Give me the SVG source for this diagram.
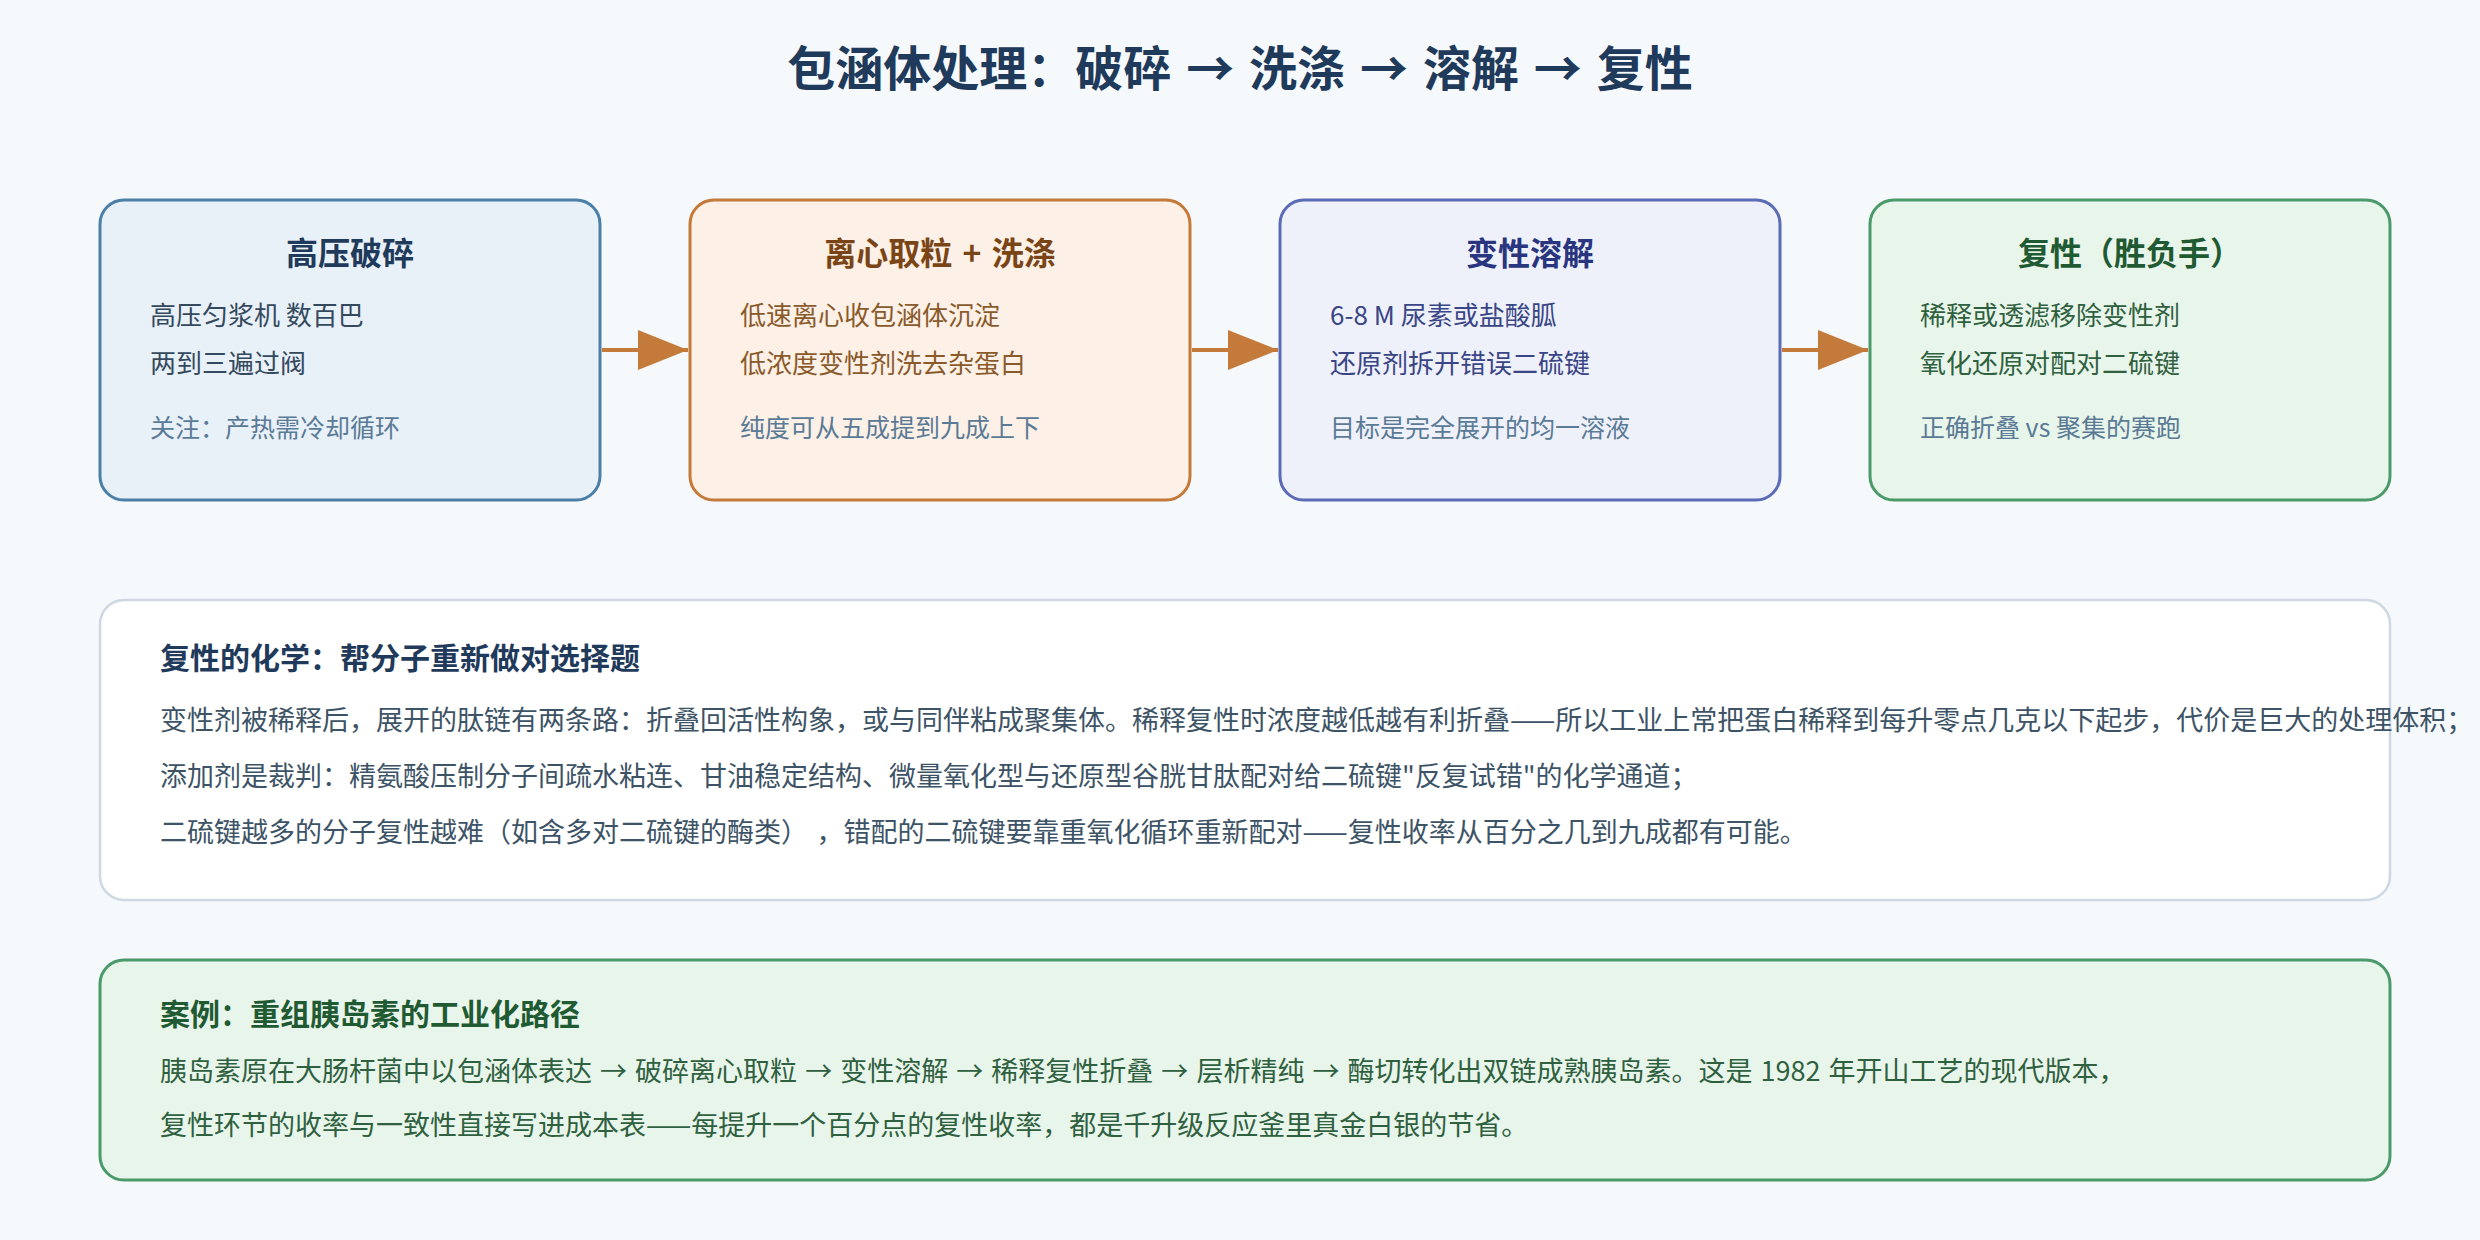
<svg xmlns="http://www.w3.org/2000/svg" width="2480" height="1240" viewBox="0 0 2480 1240">
  <style>
    text { font-family: "Noto Sans CJK SC", "Noto Sans", sans-serif; }
    .title { font-size: 48px; font-weight: 700; fill: #1f3a5a; word-spacing: 4px; }
    .ntitle { font-size: 32px; font-weight: 700; text-anchor: middle; word-spacing: 3px; }
    .body { font-size: 26px; }
    .note { font-size: 25px; fill: #5a7a96; }
    .box { stroke-width: 3; }
    .conn { stroke: #c47a3a; stroke-width: 4; fill: none; }
    .h2 { font-size: 30px; font-weight: 700; }
    .p { font-size: 27px; }
  </style>
  <defs>
    <marker id="ah" markerUnits="userSpaceOnUse" markerWidth="50" markerHeight="40" refX="50" refY="20" orient="auto">
      <path d="M0,0 L50,20 L0,40 Z" fill="#c47a3a"/>
    </marker>
  </defs>
  <rect x="0" y="0" width="2480" height="1240" fill="#f5f9fc"/>
  <text class="title" x="1240" y="86" text-anchor="middle">包涵体处理：破碎 → 洗涤 → 溶解 → 复性</text>

  <g id="node-crush">
    <rect class="box" x="100" y="200" width="500" height="300" rx="24" fill="#e8f0f8" stroke="#4a7fa8"/>
    <text class="ntitle" x="350" y="265" fill="#1f3a5a">高压破碎</text>
    <text class="body" x="150" y="325" fill="#34495e">高压匀浆机 数百巴</text>
    <text class="body" x="150" y="373" fill="#34495e">两到三遍过阀</text>
    <text class="note" x="150" y="437">关注：产热需冷却循环</text>
  </g>
  <g id="node-wash">
    <rect class="box" x="690" y="200" width="500" height="300" rx="24" fill="#fdf0e6" stroke="#c47a3a"/>
    <text class="ntitle" x="940" y="265" fill="#7a4516">离心取粒 + 洗涤</text>
    <text class="body" x="740" y="325" fill="#8a5a2b">低速离心收包涵体沉淀</text>
    <text class="body" x="740" y="373" fill="#8a5a2b">低浓度变性剂洗去杂蛋白</text>
    <text class="note" x="740" y="437">纯度可从五成提到九成上下</text>
  </g>
  <g id="node-dissolve">
    <rect class="box" x="1280" y="200" width="500" height="300" rx="24" fill="#eef1fa" stroke="#5b6bb5"/>
    <text class="ntitle" x="1530" y="265" fill="#2a3580">变性溶解</text>
    <text class="body" x="1330" y="325" fill="#3a4585">6-8 M 尿素或盐酸胍</text>
    <text class="body" x="1330" y="373" fill="#3a4585">还原剂拆开错误二硫键</text>
    <text class="note" x="1330" y="437">目标是完全展开的均一溶液</text>
  </g>
  <g id="node-refold">
    <rect class="box" x="1870" y="200" width="520" height="300" rx="24" fill="#e8f5ea" stroke="#4a9a6a"/>
    <text class="ntitle" x="2130" y="265" fill="#1f5a33">复性（胜负手）</text>
    <text class="body" x="1920" y="325" fill="#2f6040">稀释或透滤移除变性剂</text>
    <text class="body" x="1920" y="373" fill="#2f6040">氧化还原对配对二硫键</text>
    <text class="note" x="1920" y="437">正确折叠 vs 聚集的赛跑</text>
  </g>

  <g id="connectors">
    <line class="conn" x1="602" y1="350" x2="688" y2="350" marker-end="url(#ah)"/>
    <line class="conn" x1="1192" y1="350" x2="1278" y2="350" marker-end="url(#ah)"/>
    <line class="conn" x1="1782" y1="350" x2="1868" y2="350" marker-end="url(#ah)"/>
  </g>

  <g id="panel-chemistry">
    <rect x="100" y="600" width="2290" height="300" rx="24" fill="#ffffff" stroke="#cdd8e3" stroke-width="2.5"/>
    <text class="h2" x="160" y="669" fill="#1f3a5a">复性的化学：帮分子重新做对选择题</text>
    <text class="p" x="160" y="730" fill="#3d5366">变性剂被稀释后，展开的肽链有两条路：折叠回活性构象，或与同伴粘成聚集体。稀释复性时浓度越低越有利折叠——所以工业上常把蛋白稀释到每升零点几克以下起步，代价是巨大的处理体积；</text>
    <text class="p" x="160" y="786" fill="#3d5366">添加剂是裁判：精氨酸压制分子间疏水粘连、甘油稳定结构、微量氧化型与还原型谷胱甘肽配对给二硫键"反复试错"的化学通道；</text>
    <text class="p" x="160" y="842" fill="#3d5366">二硫键越多的分子复性越难（如含多对二硫键的酶类）<tspan dx="22">，错配的二硫键要靠重氧化循环重新配对——复性收率从百分之几到九成都有可能。</tspan></text>
  </g>

  <g id="panel-case">
    <rect x="100" y="960" width="2290" height="220" rx="24" fill="#e8f5ea" stroke="#4a9a6a" stroke-width="3"/>
    <text class="h2" x="160" y="1025" fill="#1f5a33">案例：重组胰岛素的工业化路径</text>
    <text class="p" x="160" y="1081" fill="#2f6040" style="word-spacing:2px">胰岛素原在大肠杆菌中以包涵体表达 → 破碎离心取粒 → 变性溶解 → 稀释复性折叠 → 层析精纯 → 酶切转化出双链成熟胰岛素。这是 1982 年开山工艺的现代版本，</text>
    <text class="p" x="160" y="1135" fill="#2f6040">复性环节的收率与一致性直接写进成本表——每提升一个百分点的复性收率，都是千升级反应釜里真金白银的节省。</text>
  </g>
</svg>
